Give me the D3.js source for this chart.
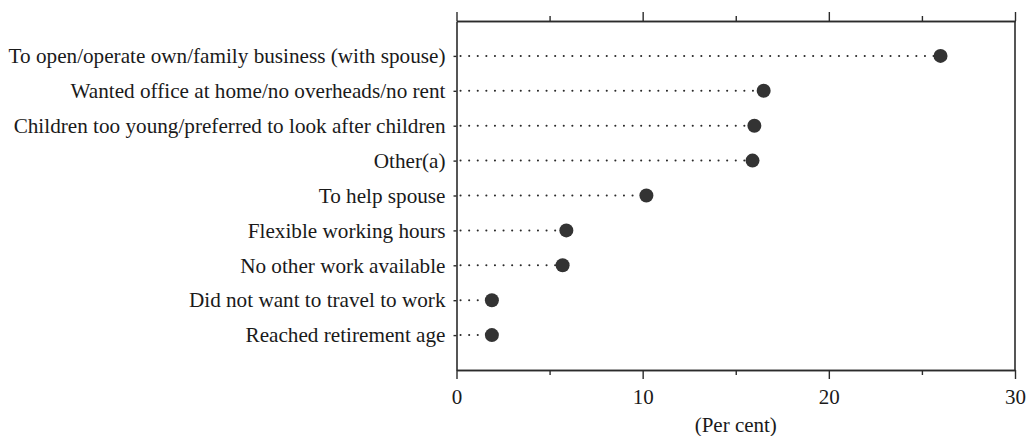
<!DOCTYPE html>
<html>
<head>
<meta charset="utf-8">
<script src="https://cdn.jsdelivr.net/npm/d3@7"></script>
<style>
  html, body { margin: 0; padding: 0; background: #fff; }
  svg { display: block; }
  text { font-family: "Liberation Serif", "Times New Roman", serif; fill: #1a1a1a; }
</style>
</head>
<body>
<svg id="chart" width="1032" height="436"></svg>
<script>
const categories = [
  "To open/operate own/family business (with spouse)",
  "Wanted office at home/no overheads/no rent",
  "Children too young/preferred to look after children",
  "Other(a)",
  "To help spouse",
  "Flexible working hours",
  "No other work available",
  "Did not want to travel to work",
  "Reached retirement age"
];
const values = [26.0, 16.5, 16.0, 15.9, 10.2, 5.9, 5.7, 1.9, 1.9];
const majorTicks = [0, 10, 20, 30];
const minorTicks = [5, 15, 25];
const xTitle = "(Per cent)";

const svg = d3.select("#chart");
const m = { left: 456.5, right: 1015, top: 21, bottom: 370 };
const ink = "#2b2b2b";

const x = d3.scaleLinear().domain([0, 30]).range([m.left, m.right]);
const y = d3.scalePoint().domain(categories).range([m.top, m.bottom]).padding(1);

// Top axis (ticks outward, no labels)
const topMajor = d3.axisTop(x).tickValues(majorTicks).tickSize(9).tickFormat("").tickSizeOuter(0);
const topMinor = d3.axisTop(x).tickValues(minorTicks).tickSize(5).tickFormat("").tickSizeOuter(0);
const gTop1 = svg.append("g").attr("transform", `translate(0,${m.top})`).call(topMajor);
const gTop2 = svg.append("g").attr("transform", `translate(0,${m.top})`).call(topMinor);

// Bottom axis
const botMajor = d3.axisBottom(x).tickValues(majorTicks).tickSize(9).tickPadding(10).tickSizeOuter(0);
const botMinor = d3.axisBottom(x).tickValues(minorTicks).tickSize(5).tickFormat("").tickSizeOuter(0);
const gBot1 = svg.append("g").attr("transform", `translate(0,${m.bottom})`).call(botMajor);
const gBot2 = svg.append("g").attr("transform", `translate(0,${m.bottom})`).call(botMinor);

// Left axis (category labels)
const left = d3.axisLeft(y).tickSize(3).tickPadding(8).tickSizeOuter(0);
const gLeft = svg.append("g").attr("transform", `translate(${m.left},0)`).call(left);

// Right frame line
svg.append("line")
  .attr("x1", x(30)).attr("x2", x(30))
  .attr("y1", m.top).attr("y2", m.bottom)
  .attr("stroke", ink).attr("stroke-width", 1.6);

[gTop1, gTop2, gBot1, gBot2, gLeft].forEach(g => {
  g.selectAll(".domain").attr("stroke", ink).attr("stroke-width", 1.6);
  g.selectAll(".tick line").attr("stroke", ink).attr("stroke-width", 1.4);
});
gBot1.selectAll(".tick text")
  .attr("font-size", 21).attr("font-family", "Liberation Serif").attr("fill", "#1a1a1a");
gLeft.selectAll(".tick text")
  .attr("font-size", 21.2).attr("font-family", "Liberation Serif").attr("fill", "#1a1a1a")
  .attr("dy", "0.32em");

// Axis title
svg.append("text")
  .attr("x", (m.left + m.right) / 2).attr("y", 432)
  .attr("text-anchor", "middle")
  .attr("font-size", 21)
  .text(xTitle);

// Dotted leader lines
svg.append("g").selectAll("line")
  .data(categories)
  .join("line")
  .attr("x1", x(0) + 4)
  .attr("x2", (d, i) => x(values[i]) - 6)
  .attr("y1", d => y(d)).attr("y2", d => y(d))
  .attr("stroke", ink)
  .attr("stroke-width", 2)
  .attr("stroke-linecap", "round")
  .attr("stroke-dasharray", "0.1,8.5");

// Dots
svg.append("g").selectAll("circle")
  .data(categories)
  .join("circle")
  .attr("cx", (d, i) => x(values[i]))
  .attr("cy", d => y(d))
  .attr("r", 7)
  .attr("fill", "#333");
</script>
</body>
</html>
